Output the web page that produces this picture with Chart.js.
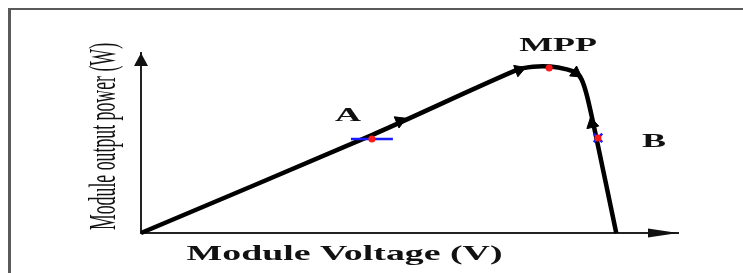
<!DOCTYPE html>
<html>
<head>
<meta charset="utf-8">
<script src="https://cdn.jsdelivr.net/npm/chart.js@4.4.0/dist/chart.umd.min.js"></script>
<style>
  html, body { margin: 0; padding: 0; background: #fff; }
  #wrap { position: relative; width: 743px; height: 273px; }
</style>
</head>
<body>
<div id="wrap"><canvas id="pv" width="743" height="273"></canvas></div>
<script>
'use strict';
// P-V curve of the module (voltage and power in % of the axis length)
const curveV = [0, 43.0, 70.0, 73.0, 76.2, 79.3, 81.2, 82.1, 83.1, 84.8, 88.5];
const curveP = [0, 54.4, 90.6, 92.4, 92.5, 90.9, 88.7, 85.0, 75.6, 52.8, 0];

// operating points
const pointNames = ['A', 'MPP', 'B'];
const pointV = [43.0, 76.0, 85.1];
const pointP = [52.2, 91.7, 52.8];

// direction arrows on the curve (angle in degrees, 0 = up)
const arrowV = [48.2, 70.4, 81.0, 84.0];
const arrowP = [62.2, 90.6, 88.9, 60.6];
const arrowAngle = [67, 70, 125, -12];

const xTitle = 'Module Voltage (V)';
const yTitle = 'Module output power (W)';

const toXY = (xs, ys) => xs.map((v, i) => ({x: v, y: ys[i]}));

// label offsets from their point, in px
const labelOffset = {A: [-24, -18], MPP: [9, -17], B: [56, 9]};

function wideText(ctx, text, x, y, font, sx, rotate) {
    ctx.save();
    ctx.translate(x, y);
    ctx.scale(sx, 1);
    if (rotate) ctx.rotate(-Math.PI / 2);
    ctx.font = font;
    ctx.textAlign = 'center';
    ctx.textBaseline = 'alphabetic';
    ctx.fillStyle = '#111';
    ctx.fillText(text, 0, 0);
    ctx.restore();
}

const framePlugin = {
    id: 'frame',
    beforeDraw(chart) {
        const ctx = chart.ctx;
        ctx.save();
        ctx.fillStyle = '#fff';
        ctx.fillRect(0, 0, chart.width, chart.height);
        ctx.fillStyle = '#5a5a5a';
        ctx.fillRect(8, 8, 3, chart.height);
        ctx.fillRect(8, 8, chart.width, 2);
        ctx.restore();
    },
    afterDraw(chart) {
        const ctx = chart.ctx;
        const a = chart.chartArea;
        ctx.save();
        ctx.fillStyle = '#111';
        // y axis arrow head
        ctx.beginPath();
        ctx.moveTo(a.left, a.top);
        ctx.lineTo(a.left - 7, a.top + 13);
        ctx.lineTo(a.left + 7, a.top + 13);
        ctx.closePath();
        ctx.fill();
        // x axis arrow head
        ctx.beginPath();
        ctx.moveTo(a.right, a.bottom);
        ctx.lineTo(a.right - 30, a.bottom - 4.5);
        ctx.lineTo(a.right - 30, a.bottom + 4.5);
        ctx.closePath();
        ctx.fill();
        ctx.restore();

        const xs = chart.scales.x, ys = chart.scales.y;
        pointNames.forEach((n, i) => {
            const o = labelOffset[n];
            wideText(ctx, n, xs.getPixelForValue(pointV[i]) + o[0],
                ys.getPixelForValue(pointP[i]) + o[1],
                'bold 18px "Liberation Serif"', 2.0, false);
        });
        wideText(ctx, xTitle, a.left + 203.5, a.bottom + 27,
            'bold 22px "Liberation Serif"', 1.72, false);
        wideText(ctx, yTitle, a.left - 26, a.top + 83.5,
            '17.8px "Liberation Serif"', 2.1, true);
    }
};

new Chart(document.getElementById('pv'), {
    type: 'scatter',
    data: {
        datasets: [
            {
                label: 'P-V',
                data: toXY(curveV, curveP),
                showLine: true,
                borderColor: '#000',
                borderWidth: 4.5,
                tension: 0.3,
                pointRadius: 0,
                clip: false,
                order: 4
            },
            {
                label: 'arrows',
                data: toXY(arrowV, arrowP),
                pointStyle: 'triangle',
                rotation: arrowAngle,
                pointRadius: 7,
                backgroundColor: '#000',
                borderColor: '#000',
                borderWidth: 1,
                clip: false,
                order: 3
            },
            {
                label: 'marks',
                data: toXY(pointV, pointP),
                pointStyle: ['line', false, 'crossRot'],
                pointRadius: [21, 0, 6],
                borderColor: '#1a1aff',
                borderWidth: 2.5,
                clip: false,
                order: 2
            },
            {
                label: 'points',
                data: toXY(pointV, pointP),
                pointStyle: 'circle',
                pointRadius: 3.5,
                backgroundColor: '#ff1a1a',
                borderWidth: 0,
                clip: false,
                order: 1
            }
        ]
    },
    options: {
        responsive: false,
        animation: false,
        devicePixelRatio: 1,
        layout: {padding: {left: 141, right: 65, top: 53, bottom: 40}},
        plugins: {legend: {display: false}, tooltip: {enabled: false}},
        scales: {
            x: {
                type: 'linear', min: 0, max: 100,
                grid: {display: false, drawTicks: false},
                ticks: {display: false},
                border: {display: true, color: '#222', width: 2},
                afterFit: s => { s.height = 0; }
            },
            y: {
                type: 'linear', min: 0, max: 100,
                grid: {display: false, drawTicks: false},
                ticks: {display: false},
                border: {display: true, color: '#222', width: 2},
                afterFit: s => { s.width = 0; }
            }
        }
    },
    plugins: [framePlugin]
});
</script>
</body>
</html>
